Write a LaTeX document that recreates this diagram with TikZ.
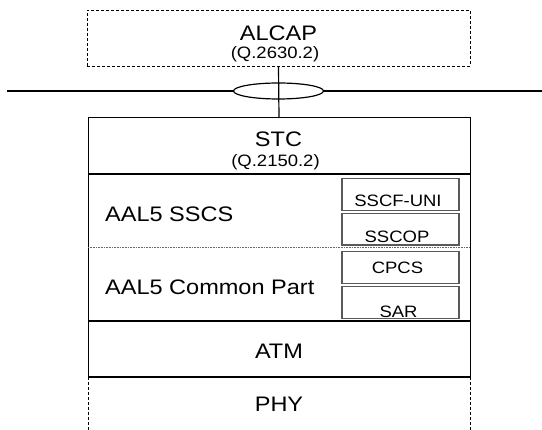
\documentclass[tikz,border=0pt]{standalone}
\usepackage{fontspec}
\setmainfont{Liberation Sans}[FakeStretch=1.12]
\usetikzlibrary{shapes.geometric}
\begin{document}
\begin{tikzpicture}[x=1pt,y=-1pt,
  big/.style={font=\fontsize{21}{21}\selectfont, anchor=base, inner sep=0pt},
  small/.style={font=\fontsize{16.5}{16.5}\selectfont, anchor=base, inner sep=0pt},
  subbox/.style={draw=black!65, line width=1.1pt, rectangle, inner sep=0pt, minimum width=117pt, minimum height=32pt},
  dashline/.style={line width=0.9pt, dash pattern=on 3pt off 2pt},
  frame/.style={line width=1pt},
  thick line/.style={line width=2pt},
  dotline/.style={draw=black!60, line width=0.8pt, dash pattern=on 0.8pt off 0.8pt},
  link/.style={line width=1.2pt}]
\useasboundingbox (0,0) rectangle (542,430);

% ALCAP
\node[draw, dashline, rectangle, inner sep=0pt, minimum width=383pt, minimum height=56pt] (alcap) at (278.5,38) {};
\node[big] (alcapt) at (278.5,41) {ALCAP};
\node[small] (alcapq) at (275,58.5) {(Q.2630.2)};

% ellipse and horizontal line
\node[draw, ellipse, link, inner sep=0pt, minimum width=90pt, minimum height=16pt] (ell) at (278.5,91) {};
\coordinate (hl) at (7,91);
\coordinate (hr) at (542,91);
\draw[link] (hl) -- (ell.west);
\draw[link] (ell.east) -- (hr);

% main stack
\coordinate (stctop) at (279,118);
\draw[link] (alcap.south) -- (stctop);
\draw[frame] (88,377) -- (88,118) -- (470,118) -- (470,377);
\node[big] (stct) at (278.5,146.5) {STC};
\node[small] (stcq) at (275.5,167) {(Q.2150.2)};
\draw[thick line] (88,174.5) -- (470,174.5);

% SSCS
\node[big, anchor=base west] (sscs) at (105,222) {AAL5 SSCS};
\node[subbox, minimum height=32.4pt] (sscf) at (400.5,194.5) {};
\node[small] (sscft) at (398,207) {SSCF-UNI};
\node[subbox, minimum height=31.7pt] (sscop) at (400.5,229.2) {};
\node[small] (sscopt) at (397,243) {SSCOP};
\draw[dotline] (88,247) -- (470,247);

% Common part
\node[big, anchor=base west] (cp) at (105,295) {AAL5 Common Part};
\node[subbox, minimum height=31.6pt] (cpcs) at (400.5,267.5) {};
\node[small] (cpcst) at (397.5,273.5) {CPCS};
\node[subbox, minimum height=32pt] (sar) at (400.5,302.5) {};
\node[small] (sart) at (398.5,318) {SAR};
\draw[thick line] (88,321.5) -- (470,321.5);

% ATM
\node[big] (atm) at (279,358.5) {ATM};
\draw[line width=1.6pt] (88,377) -- (470,377);

% PHY
\node[big] (phy) at (279,411.5) {PHY};
\draw[dashline] (88,377) -- (88,430);
\draw[dashline] (470,377) -- (470,430);
\end{tikzpicture}
\end{document}
